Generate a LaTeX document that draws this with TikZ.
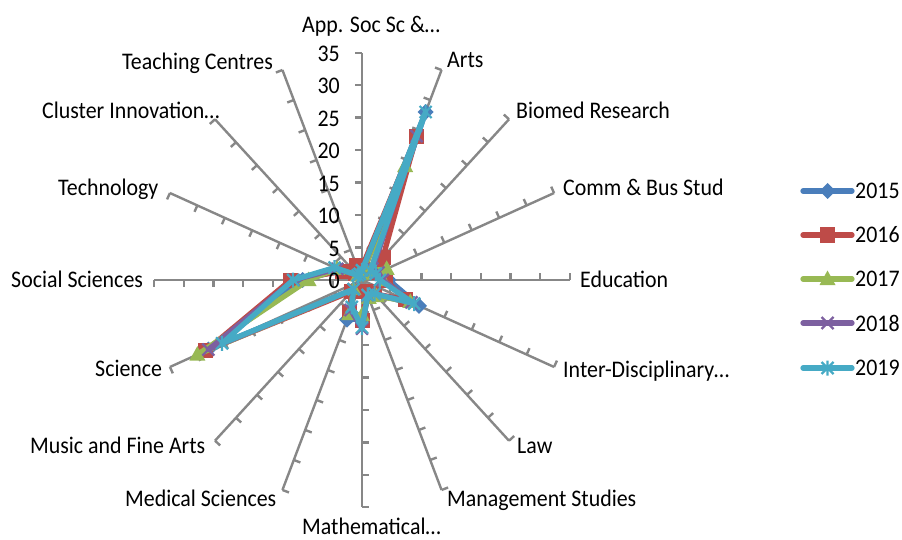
\documentclass[tikz,border=0pt]{standalone}
\usepackage{fontspec}
\setmainfont{Carlito}
\usepackage{graphicx}
\usetikzlibrary{calc}
\definecolor{c15}{HTML}{4A7EBB}
\definecolor{c16}{HTML}{BE4B48}
\definecolor{c17}{HTML}{98B954}
\definecolor{c18}{HTML}{7D60A0}
\definecolor{c19}{HTML}{46AAC5}
\definecolor{axgray}{HTML}{878787}
\newcommand{\sq}[1]{\scalebox{0.92}[1]{#1}}
\tikzset{
  lab/.style={font=\fontsize{23.8}{28}\selectfont, inner sep=0pt, text=black},
  axisline/.style={draw=axgray, line width=2.4pt},
  serline/.style={line width=5.3pt, line join=round, line cap=round},
  dia/.pic={\fill (0,8pt)--(8pt,0)--(0,-8pt)--(-8pt,0)--cycle;},
  sqm/.pic={\fill (-7.5pt,-7.5pt) rectangle (7.5pt,7.5pt);},
  tri/.pic={\fill (0,8.5pt)--(8pt,-6pt)--(-8pt,-6pt)--cycle;},
  xx/.pic={\draw[line width=2.2pt] (-6pt,-6pt)--(6pt,6pt) (-6pt,6pt)--(6pt,-6pt);},
  ast/.pic={\draw[line width=2.2pt] (-6pt,-6pt)--(6pt,6pt) (-6pt,6pt)--(6pt,-6pt) (0,-7.5pt)--(0,7.5pt);}
}
\newcommand{\drawseries}[4]{%
  \foreach \v [count=\i from 0] in {#4} { \coordinate (#1-\i) at ({90-22.5*\i}:\v); }
  \draw[serline, #2] (#1-0) \foreach \i in {1,...,15}{ -- (#1-\i)} -- cycle;
  \foreach \i in {0,...,15} { \pic[#2] at (#1-\i) {#3}; }
}
\begin{document}
\begin{tikzpicture}[x=1pt, y=-1pt]
\useasboundingbox (0,0) rectangle (902,540);
\begin{scope}[shift={(362,280)}, x=5.94pt, y=6.494pt]
  \coordinate (ctr) at (0,0);
  % axes and ticks
  \foreach \k in {0,...,15} {
    \pgfmathsetmacro{\ang}{90-22.5*\k}
    \draw[axisline] (ctr) -- (\ang:35);
    \foreach \t in {5,10,...,35} {
      \draw[axisline] (\ang:\t) -- ($(\ang:\t)!7pt!-90:(ctr)$);
    }
  }
  % series: App, Arts, Biomed, Comm, Edu, Inter, Law, Mgmt, Math, Medical, Music, Science, Social, Tech, Cluster, Teaching
  \drawseries{s15}{c15}{dia}{1.5,28,2.5,3,4.5,10.4,3,2.5,6,6.6,2,28,10,4,1,1}
  \drawseries{s16}{c16}{sqm}{2,24,5,3,4,8,3,2,6.2,5.4,2.5,28.5,12,3.5,1.5,2.5}
  \drawseries{s17}{c17}{tri}{1,19,2,4.5,3.5,8.8,3.5,3,5.4,5.7,2,30,9,4.5,1,1}
  \drawseries{s18}{c18}{xx}{1.5,24,2.5,3,3.5,9,3,2.5,7.5,5,2,28,11.5,4.5,1,1}
  \drawseries{s19}{c19}{ast}{1.5,28,2,2.5,3,9.5,3,2.5,7.3,4.5,2,25.5,11.6,5,1,1}
\end{scope}
% scale numbers
\foreach \n [count=\k from 0] in {0,5,...,35} {
  \node[lab, anchor=east] (num\n) at (340, {281-32.47*\k}) {\sq{\n}};
}
% category labels
\node[lab, anchor=base west] (lApp) at (302,33) {\sq{App. Soc Sc \&…}};
\node[lab, anchor=base west] (lArts) at (447,68) {\sq{Arts}};
\node[lab, anchor=base west] (lBio) at (516,119) {\sq{Biomed Research}};
\node[lab, anchor=base west] (lComm) at (563,196) {\sq{Comm \& Bus Stud}};
\node[lab, anchor=base west] (lEdu) at (580,287) {\sq{Education}};
\node[lab, anchor=base west] (lInter) at (563,377) {\sq{Inter-Disciplinary…}};
\node[lab, anchor=base west] (lLaw) at (517,453) {\sq{Law}};
\node[lab, anchor=base west] (lMgmt) at (447,506) {\sq{Management Studies}};
\node[lab, anchor=base west] (lMath) at (302,534) {\sq{Mathematical…}};
\node[lab, anchor=base west] (lMed) at (125,506) {\sq{Medical Sciences}};
\node[lab, anchor=base west] (lMus) at (30,453) {\sq{Music and Fine Arts}};
\node[lab, anchor=base west] (lSci) at (95,376) {\sq{Science}};
\node[lab, anchor=base west] (lSoc) at (11,287) {\sq{Social Sciences}};
\node[lab, anchor=base west] (lTech) at (58,196) {\sq{Technology}};
\node[lab, anchor=base west] (lClu) at (42,119) {\sq{Cluster Innovation…}};
\node[lab, anchor=base west] (lTea) at (122,70) {\sq{Teaching Centres}};
% legend
\foreach \yr/\col/\mk/\y in {2015/c15/dia/191, 2016/c16/sqm/235, 2017/c17/tri/279, 2018/c18/xx/323, 2019/c19/ast/368} {
  \coordinate (la\yr) at (803,\y);
  \coordinate (lb\yr) at (852,\y);
  \draw[serline, \col] (la\yr) -- (lb\yr);
  \pic[\col] at (827.5,\y) {\mk};
  \node[lab, anchor=west] (leg\yr) at (855,\y) {\sq{\yr}};
}
\end{tikzpicture}
\end{document}
